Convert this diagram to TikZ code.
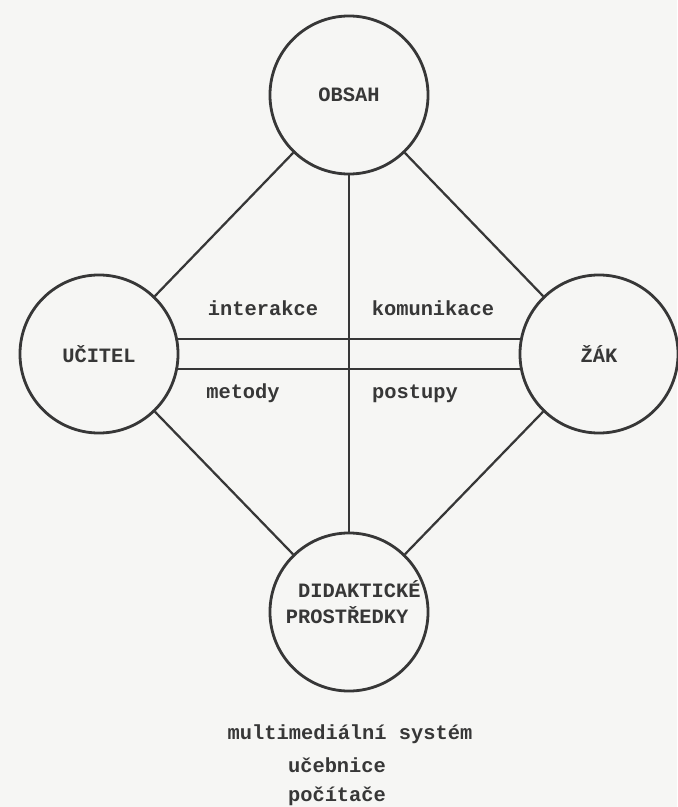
\documentclass[tikz,border=0pt]{standalone}
\usepackage{fontspec}
\setmonofont{Liberation Mono}
\definecolor{ink}{RGB}{55,55,55}
\definecolor{paper}{RGB}{246,246,244}
\newcommand{\strojpis}{\ttfamily\bfseries\fontsize{14.5}{18}\selectfont}

\begin{document}
\begin{tikzpicture}[x=0.025cm,y=-0.025cm,
    pojem/.style={circle,draw=ink,line width=2pt,minimum size=3.95cm,inner sep=0pt,text=ink,font=\strojpis},
    popis/.style={text=ink,font=\strojpis,anchor=base},
    spoj/.style={draw=ink,line width=1.6pt}]
        \fill[paper] (0,0) rectangle (677,807);
        \useasboundingbox (0,0) rectangle (677,807);
        % Define nodes
        % pojmy
        \node[pojem](obsah) at (349,95){OBSAH}; %
        \node[pojem](ucitel) at (99,354){UČITEL}; %
        \node[pojem](zak) at (599,354){ŽÁK}; %
        \node[pojem,label={[popis,align=left,anchor=center,yshift=7pt,xshift=3pt]center:{\hspace*{0.6em}DIDAKTICKÉ\\PROSTŘEDKY}}](prostredky) at (349,612){}; %
        % popisky
        \node[popis](interakce) at (263,315){interakce}; %
        \node[popis](komunikace) at (433,315){komunikace}; %
        \node[popis](metody) at (243,398){metody}; %
        \node[popis](postupy) at (415,398){postupy}; %
        \node[popis](system) at (350,739){multimediální systém}; %
        \node[popis](ucebnice) at (337,772){učebnice}; %
        \node[popis](pocitace) at (337,801){počítače}; %
        % spoje
        \draw[spoj] (obsah) -- (ucitel);
        \draw[spoj] (obsah) -- (zak);
        \draw[spoj] (prostredky) -- (ucitel);
        \draw[spoj] (prostredky) -- (zak);
        \draw[spoj] (obsah) -- (prostredky);
        \draw[spoj] (ucitel.11) -- (zak.169);
        \draw[spoj] (ucitel.-11) -- (zak.-169);
\end{tikzpicture}
\end{document}
